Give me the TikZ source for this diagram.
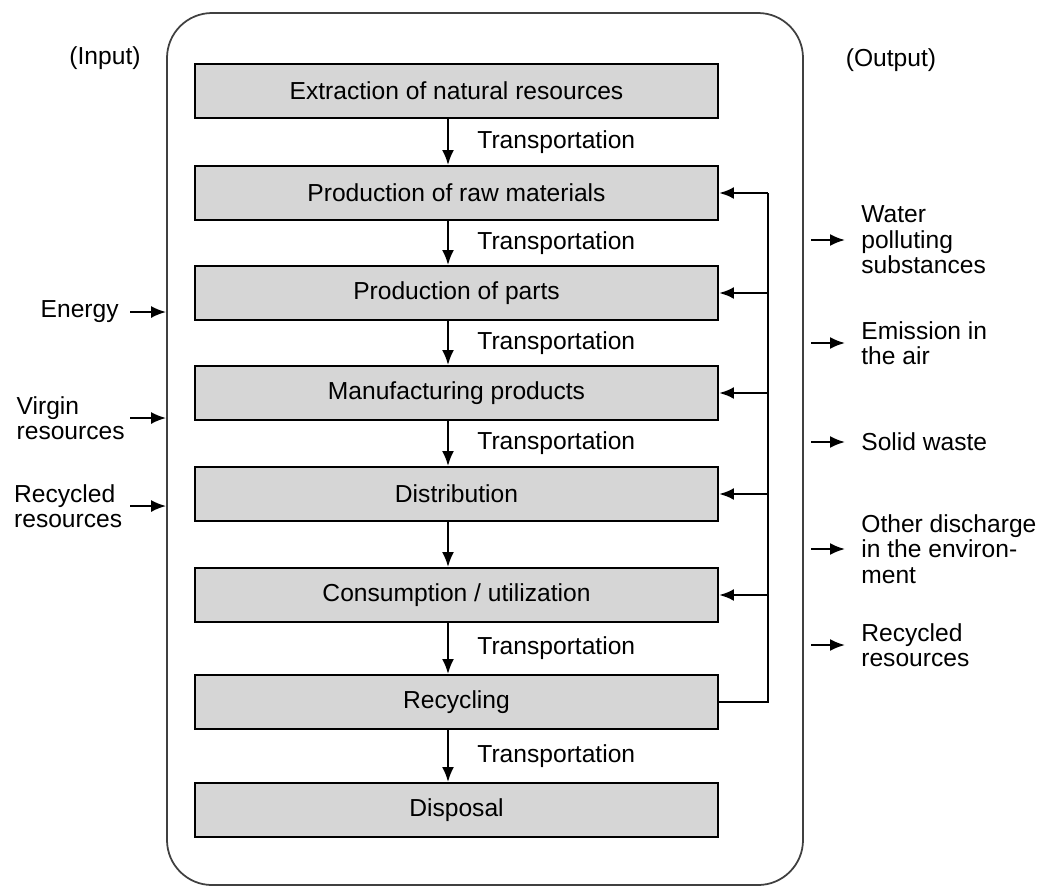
\documentclass[tikz,border=0pt]{standalone}
\usepackage{fontspec}
\setmainfont{Liberation Sans}
\usepackage{tikz}
\usetikzlibrary{arrows.meta, positioning, calc}

\begin{document}
\begin{tikzpicture}[
  stage/.style={rectangle, draw, line width=1.1pt, fill=black!16, minimum width=10.46cm, minimum height=1.08cm, font=\fontsize{14}{16}\selectfont},
  frame/.style={rectangle, draw=black!75, line width=1pt, rounded corners=0.9cm, minimum width=12.72cm, minimum height=17.44cm},
  flow/.style={draw, line width=1.2pt, -{Latex[length=3mm,width=2.4mm]}},
  feed/.style={draw, line width=1.6pt},
  side/.style={font=\fontsize{14}{14.5}\selectfont, align=left, inner sep=0pt},
  trans/.style={font=\fontsize{14}{16}\selectfont, right=0.45cm},
]
  \useasboundingbox (0,0) rectangle (20.88,-17.8);

  \node[frame] (frame) at (9.7,-8.98) {};

  \node[stage] (extract) at (9.13,-1.82)  {Extraction of natural resources};
  \node[stage] (raw)     at (9.13,-3.86)  {Production of raw materials};
  \node[stage] (parts)   at (9.13,-5.86)  {Production of parts};
  \node[stage] (manuf)   at (9.13,-7.86)  {Manufacturing products};
  \node[stage] (distr)   at (9.13,-9.88)  {Distribution};
  \node[stage] (consum)  at (9.13,-11.9)  {Consumption / utilization};
  \node[stage] (recyc)   at (9.13,-14.04) {Recycling};
  \node[stage] (dispo)   at (9.13,-16.2)  {Disposal};

  \coordinate (spine) at (8.96,0);
  \coordinate (bus) at (15.36,0);

  % main chain
  \draw[flow] (extract.south -| spine) -- node[trans] {Transportation} (raw.north -| spine);
  \draw[flow] (raw.south -| spine)     -- node[trans] {Transportation} (parts.north -| spine);
  \draw[flow] (parts.south -| spine)   -- node[trans] {Transportation} (manuf.north -| spine);
  \draw[flow] (manuf.south -| spine)   -- node[trans] {Transportation} (distr.north -| spine);
  \draw[flow] (distr.south -| spine)   -- (consum.north -| spine);
  \draw[flow] (consum.south -| spine)  -- node[trans] {Transportation} (recyc.north -| spine);
  \draw[flow] (recyc.south -| spine)   -- node[trans] {Transportation} (dispo.north -| spine);

  % recycling loop
  \draw[feed] (recyc.east) -- (bus |- recyc.east) -- (bus |- raw.east);
  \foreach \s in {raw, parts, manuf, distr, consum}
    \draw[flow, line width=1.6pt] (bus |- \s.east) -- (\s.east);

  % inputs
  \node[font=\fontsize{14}{16}\selectfont] (inlabel)  at (2.1,-1.16)  {(Input)};
  \node[font=\fontsize{14}{16}\selectfont] (outlabel) at (17.82,-1.2) {(Output)};

  \node[side, anchor=east] (energy)  at (2.38,-6.24)  {Energy};
  \node[side, anchor=east] (virgin)  at (2.5,-8.36)   {Virgin\\resources};
  \node[side, anchor=east] (recin)   at (2.45,-10.12) {Recycled\\resources};
  \foreach \s in {energy, virgin, recin}
    \draw[flow] ([xshift=0.15cm]\s.east -| 2.45,0) -- (\s.east -| frame.west);

  % outputs
  \node[side, anchor=west, inner xsep=0.32cm] (water)  at (16.9,-4.8)   {Water\\polluting\\substances};
  \node[side, anchor=west, inner xsep=0.32cm] (air)    at (16.9,-6.86)  {Emission in\\the air};
  \node[side, anchor=west, inner xsep=0.32cm] (solid)  at (16.9,-8.84)  {Solid waste};
  \node[side, anchor=west, inner xsep=0.32cm] (other)  at (16.9,-10.98) {Other discharge\\in the environ-\\ment};
  \node[side, anchor=west, inner xsep=0.32cm] (recout) at (16.9,-12.9)  {Recycled\\resources};
  \foreach \s in {water, air, solid, other, recout}
    \draw[flow] ([xshift=0.15cm]\s.west -| frame.east) -- (\s.west);
\end{tikzpicture}
\end{document}
